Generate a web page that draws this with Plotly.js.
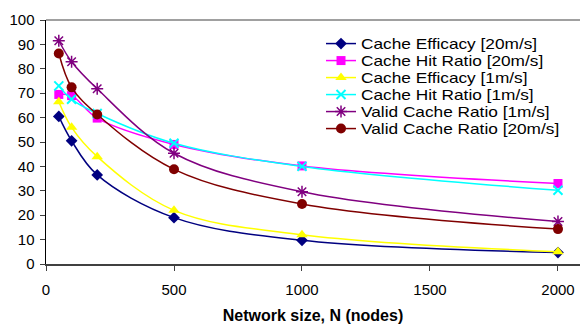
<!DOCTYPE html>
<html><head><meta charset="utf-8">
<script src="https://cdn.plot.ly/plotly-3.0.1.min.js"></script>
<style>html,body{margin:0;padding:0;background:#fff}#c{width:580px;height:324px}</style>
</head><body><div id="c"></div>
<script>
var nodes = [50, 100, 200, 500, 1000, 2000];
var effic20 = [60.5, 50.5, 36.5, 19, 9.7, 4.7];
var hit20 = [69.5, 69, 59.8, 49, 40.2, 33];
var effic1 = [66.5, 56, 44, 22, 12, 5];
var hit1 = [73, 67.5, 61.7, 49.5, 40, 30.2];
var valid1 = [91.5, 82.9, 71.8, 45.4, 29.6, 17.4];
var valid20 = [86.3, 72.4, 61.3, 38.8, 24.6, 14.3];
var names = ["Cache Efficacy [20m/s]", "Cache Hit Ratio [20m/s]", "Cache Efficacy [1m/s]",
             "Cache Hit Ratio [1m/s]", "Valid Cache Ratio [1m/s]", "Valid Cache Ratio [20m/s]"];

function tr(y, name, color, symbol, size, lw) {
  return {x: nodes, y: y, name: name, type: 'scatter', mode: 'lines+markers',
    line: {color: color, width: 1.5, shape: 'spline', smoothing: 1},
    marker: {color: color, symbol: symbol, size: size, line: {color: color, width: lw}}};
}
var data = [
  tr(effic20, names[0], '#000080', 'diamond', 9, 0),
  tr(hit20, names[1], '#ff00ff', 'square', 9, 0),
  tr(effic1, names[2], '#ffff00', 'triangle-up', 10, 0),
  tr(hit1, names[3], '#00ffff', 'x-thin-open', 9, 2),
  tr(valid1, names[4], '#800080', 'asterisk-open', 10, 1.5),
  tr(valid20, names[5], '#800000', 'circle', 10, 0)
];
var layout = {
  width: 580, height: 324,
  margin: {l: 46, r: 0, t: 20, b: 60},
  paper_bgcolor: '#fff', plot_bgcolor: '#fff',
  font: {family: 'Liberation Sans, Arial, sans-serif', color: '#000', size: 15},
  showlegend: true,
  legend: {x: 0.515, y: 0.97, xanchor: 'left', yanchor: 'top', bgcolor: '#fff',
           font: {size: 15}, tracegroupgap: 0, itemwidth: 30},
  xaxis: {range: [0, 2086], tickvals: [0, 500, 1000, 1500, 2000], showgrid: false, zeroline: false,
          showline: true, linecolor: '#404040', linewidth: 2, ticks: 'outside', ticklen: 5,
          tickcolor: '#404040', tickfont: {size: 15}, ticklabelstandoff: 6,
          title: {text: '<b>Network size, N (nodes)</b>', font: {size: 16}, standoff: 13}},
  yaxis: {range: [0, 100], dtick: 10, showgrid: false, zeroline: false,
          showline: true, linecolor: '#000', linewidth: 1.5, ticks: 'outside', ticklen: 5,
          tickcolor: '#404040', tickfont: {size: 15}, ticklabelstandoff: 2},
  shapes: [{type: 'line', xref: 'paper', yref: 'paper', x0: 0, x1: 1, y0: 1, y1: 1,
            line: {color: '#808080', width: 1.5}}]
};
function tightenLegend() {
  var items = document.querySelectorAll('.legend .traces');
  if (!items.length) return;
  var spacing = 17, stretch = 1.15, extra = 0;
  var m = /translate\(\s*([-\d.]+)[ ,]+([-\d.]+)\s*\)/.exec(items[0].getAttribute('transform') || '');
  var x0 = m ? parseFloat(m[1]) : 0, y0 = m ? parseFloat(m[2]) : 0;
  items.forEach(function (g, i) {
    g.setAttribute('transform', 'translate(' + x0 + ',' + (y0 + i * spacing) + ')');
    var t = g.querySelector('.legendtext');
    if (t && t.getComputedTextLength) {
      var w = t.getComputedTextLength();
      t.setAttribute('textLength', (w * stretch).toFixed(1));
      t.setAttribute('lengthAdjust', 'spacingAndGlyphs');
      extra = Math.max(extra, w * (stretch - 1));
    }
  });
  document.querySelectorAll('.legend [clip-path]').forEach(function (e) {
    e.removeAttribute('clip-path');
  });
  var bg = document.querySelector('.legend .bg');
  if (bg) {
    bg.setAttribute('height', y0 + (items.length - 1) * spacing + 12);
    bg.setAttribute('width', parseFloat(bg.getAttribute('width') || 0) + extra);
  }
}
Plotly.newPlot('c', data, layout, {staticPlot: true, displayModeBar: false}).then(tightenLegend);
</script></body></html>
